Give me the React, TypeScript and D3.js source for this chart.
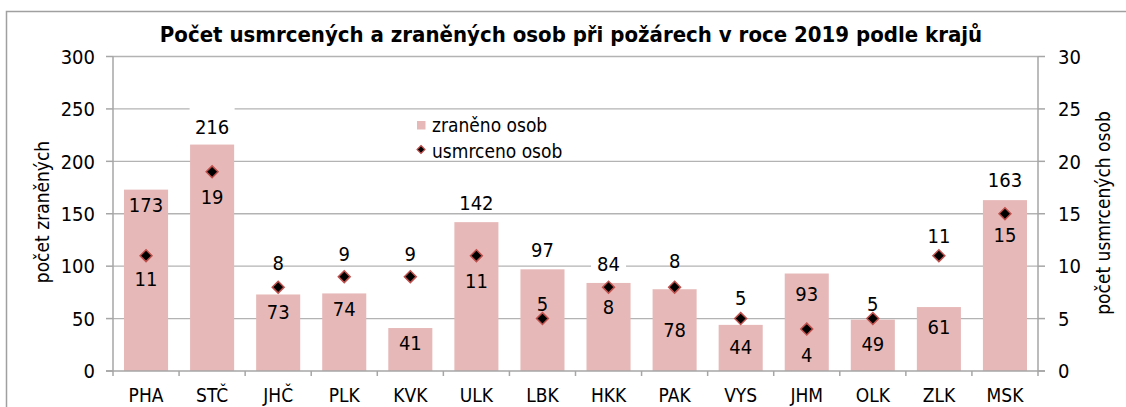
import React from "react";
import * as d3 from "d3";

const categories = ["PHA", "STČ", "JHČ", "PLK", "KVK", "ULK", "LBK", "HKK", "PAK", "VYS", "JHM", "OLK", "ZLK", "MSK"];
const injured = [173, 216, 73, 74, 41, 142, 97, 84, 78, 44, 93, 49, 61, 163];
const killed = [11, 19, 8, 9, 9, 11, 5, 8, 8, 5, 4, 5, 11, 15];
const leftTicks = [0, 50, 100, 150, 200, 250, 300];
const rightTicks = [0, 5, 10, 15, 20, 25, 30];

// label placement (layout only): vertical offset of label centre from bar top / marker
const injuredLabelDy = [15, -18, 17, 15, 15, -19, -20, -19.5, 41, 22, 20, 24, 20, -20];
const killedLabelDy = [23, 25, -24, -22.5, -22.5, 25.5, -15, 20, -26, -21, 26, -15, -19.5, 21.5];
const injuredLabelBox = [false, true, false, false, false, false, false, true, false, false, false, false, false, false];

const FONT = "'DejaVu Sans Condensed', 'DejaVu Sans', sans-serif";
const BAR = "#e6b9b8";
const GRID = "#b3b3b3";
const AXIS = "#a6a6a6";

export default function App() {
  const W = 1126, H = 407;
  const left = 113, right = 1038, top = 56.5, bottom = 371;
  const x = d3.scaleBand<string>().domain(categories).range([left, right]).paddingInner(0.333).paddingOuter(0.1665);
  const xb = d3.scaleBand<string>().domain(categories).range([left, right]).padding(0);
  const yL = d3.scaleLinear().domain([0, 300]).range([bottom, top]);
  const yR = d3.scaleLinear().domain([0, 30]).range([bottom, top]);
  const diamond = d3.symbol().type(d3.symbolDiamond2).size(90)() as string;

  return (
    <svg width={W} height={H} style={{ position: "absolute", left: 0, top: 0, background: "#fff" }} fontFamily={FONT}>
      <rect x={6.5} y={11.5} width={1300} height={600} fill="#fff" stroke="#a0a0a0" strokeWidth={1.5} />
      <text x={571} y={42} textAnchor="middle" fontSize={22} fontWeight="bold" fill="#000">
        Počet usmrcených a zraněných osob při požárech v roce 2019 podle krajů
      </text>
      {/* gridlines */}
      {leftTicks.slice(1).map((t) => (
        <line key={"g" + t} x1={left} x2={right} y1={yL(t)} y2={yL(t)} stroke={GRID} strokeWidth={1.3} />
      ))}
      {/* bars */}
      {categories.map((c, i) => (
        <rect key={"b" + c} x={x(c)} y={yL(injured[i])} width={x.bandwidth()} height={bottom - yL(injured[i])} fill={BAR} />
      ))}
      {/* axes */}
      <line x1={left} x2={left} y1={top} y2={bottom} stroke={AXIS} strokeWidth={1.5} />
      <line x1={right} x2={right} y1={top} y2={bottom} stroke={AXIS} strokeWidth={1.5} />
      <line x1={left - 7} x2={right + 7} y1={bottom} y2={bottom} stroke={AXIS} strokeWidth={1.5} />
      {leftTicks.map((t) => (
        <g key={"lt" + t}>
          <line x1={left - 7} x2={left} y1={yL(t)} y2={yL(t)} stroke={AXIS} strokeWidth={1.5} />
          <text x={95} y={yL(t)} dy="0.36em" textAnchor="end" fontSize={20}>{t}</text>
        </g>
      ))}
      {rightTicks.map((t) => (
        <g key={"rt" + t}>
          <line x1={right} x2={right + 7} y1={yR(t)} y2={yR(t)} stroke={AXIS} strokeWidth={1.5} />
          <text x={1058} y={yR(t)} dy="0.36em" textAnchor="start" fontSize={20}>{t}</text>
        </g>
      ))}
      {categories.map((c) => (
        <line key={"ct" + c} x1={xb(c)} x2={xb(c)} y1={bottom} y2={bottom + 5} stroke={AXIS} strokeWidth={1.5} />
      ))}
      <line x1={right} x2={right} y1={bottom} y2={bottom + 5} stroke={AXIS} strokeWidth={1.5} />
      {categories.map((c) => (
        <text key={"cl" + c} x={xb(c)! + xb.bandwidth() / 2} y={402} textAnchor="middle" fontSize={19}>{c}</text>
      ))}
      {/* axis titles */}
      <text transform="translate(42,212) rotate(-90)" textAnchor="middle" dy="0.36em" fontSize={19}>počet zraněných</text>
      <text transform="translate(1103,213) rotate(-90)" textAnchor="middle" dy="0.36em" fontSize={19}>počet usmrcených osob</text>
      {/* markers */}
      {categories.map((c, i) => (
        <path key={"m" + c} d={diamond} transform={`translate(${x(c)! + x.bandwidth() / 2},${yR(killed[i])})`} fill="#000" stroke="#c0504d" strokeWidth={1.5} />
      ))}
      {/* injured labels */}
      {categories.map((c, i) => {
        const cx = x(c)! + x.bandwidth() / 2;
        const cy = yL(injured[i]) + injuredLabelDy[i];
        const w = String(injured[i]).length * 10 + 15;
        return (
          <g key={"il" + c}>
            {injuredLabelBox[i] && <rect x={cx - w / 2} y={cy - 20} width={w} height={34} fill="#fff" />}
            <text x={cx} y={cy} dy="0.36em" textAnchor="middle" fontSize={20}>{injured[i]}</text>
          </g>
        );
      })}
      {/* killed labels */}
      {categories.map((c, i) => (
        <text key={"kl" + c} x={x(c)! + x.bandwidth() / 2} y={yR(killed[i]) + killedLabelDy[i]} dy="0.36em" textAnchor="middle" fontSize={20}>{killed[i]}</text>
      ))}
      {/* legend */}
      <rect x={417} y={121} width={8.5} height={8.5} fill={BAR} />
      <text x={432} y={125.5} dy="0.36em" fontSize={19}>zraněno osob</text>
      <path d={d3.symbol().type(d3.symbolDiamond2).size(40)() as string} transform="translate(421,149.5)" fill="#000" stroke="#c0504d" strokeWidth={1.2} />
      <text x={432} y={151} dy="0.36em" fontSize={19}>usmrceno osob</text>
    </svg>
  );
}
